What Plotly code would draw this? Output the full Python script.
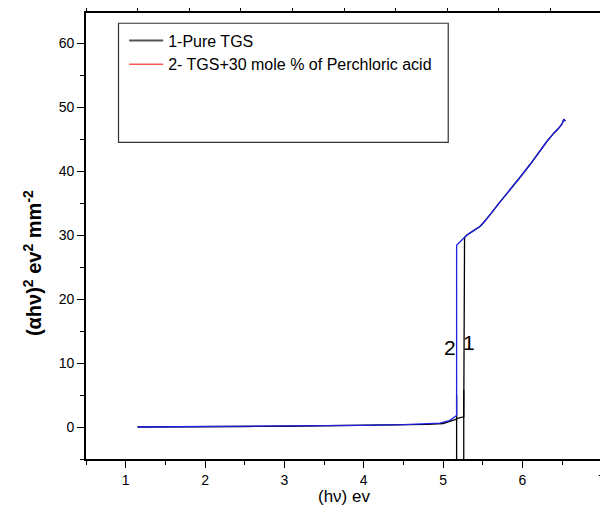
import plotly.graph_objects as go

# ---- data ----
x_pure = [1.15, 1.5, 2.0, 2.5, 3.0, 3.5, 4.0, 4.5, 4.8, 5.0, 5.1, 5.15, 5.19, 5.24,
          5.26, 5.27, 5.30, 5.36, 5.46, 5.50, 5.55, 5.60, 5.70, 5.80, 5.90, 6.00,
          6.10, 6.20, 6.30, 6.40, 6.45, 6.50, 6.52, 6.54]
y_pure = [0.0, 0.0, 0.05, 0.08, 0.12, 0.17, 0.22, 0.3, 0.4, 0.55, 0.9, 1.15, 1.4, 1.56,
          1.6, 29.6, 30.0, 30.5, 31.3, 31.8, 32.5, 33.3, 34.9, 36.4, 37.9, 39.5,
          41.1, 42.8, 44.5, 46.0, 46.6, 47.4, 48.1, 47.8]

x_acid = [1.15, 1.5, 2.0, 2.5, 3.0, 3.5, 4.0, 4.5, 4.71, 4.96, 5.08, 5.15, 5.17,
          5.17, 5.30, 5.36, 5.46, 5.50, 5.55, 5.60, 5.70, 5.80, 5.90, 6.00,
          6.10, 6.20, 6.30, 6.40, 6.45, 6.50, 6.52, 6.54]
y_acid = [0.0, 0.02, 0.06, 0.1, 0.15, 0.2, 0.27, 0.36, 0.45, 0.6, 1.0, 1.6, 1.8,
          28.4, 30.0, 30.5, 31.3, 31.8, 32.5, 33.3, 34.9, 36.4, 37.9, 39.5,
          41.1, 42.8, 44.5, 46.0, 46.6, 47.4, 48.1, 47.8]

# band-gap extrapolation lines (x intercepts)
gap_x = [5.17, 5.17, None, 5.26, 5.26]
gap_y = [-5.0, 5.0, None, -5.0, 5.8]

gap_labels = ["2", "1"]
gap_label_x = [5.09, 5.32]
gap_label_y = [12.4, 13.2]

legend_names = ["1-Pure TGS", "2- TGS+30 mole % of Perchloric acid"]
legend_colors = ["#555555", "#ff0000"]

x_ticks = [1, 2, 3, 4, 5, 6, 7]
x_tick_text = ["1", "2", "3", "4", "5", "6", "7"]
y_ticks = [0, 10, 20, 30, 40, 50, 60]

x_title = "(h\u03bd) ev"
y_title = "<b>(\u03b1h\u03bd)<sup>2</sup> ev<sup>2</sup> mm<sup>-2</sup></b>"

FONT = "Liberation Sans, Arial, sans-serif"

fig = go.Figure()

fig.add_trace(go.Scatter(x=x_pure, y=y_pure, mode="lines",
                         line=dict(color="#000000", width=1.3), showlegend=False))
fig.add_trace(go.Scatter(x=gap_x, y=gap_y, mode="lines",
                         line=dict(color="#000000", width=1.3), showlegend=False))
fig.add_trace(go.Scatter(x=x_acid, y=y_acid, mode="lines",
                         line=dict(color="#2020e6", width=1.3), showlegend=False))

# legend entries (as drawn in the original legend)
fig.add_trace(go.Scatter(x=[None], y=[None], mode="lines", name=legend_names[0],
                         line=dict(color=legend_colors[0], width=2)))
fig.add_trace(go.Scatter(x=[None], y=[None], mode="lines", name=legend_names[1],
                         line=dict(color=legend_colors[1], width=1)))

# dummy trace to activate the top/right frame axes
fig.add_trace(go.Scatter(x=[None], y=[None], xaxis="x2", yaxis="y2",
                         showlegend=False, hoverinfo="skip"))

for txt, lx, ly in zip(gap_labels, gap_label_x, gap_label_y):
    fig.add_annotation(x=lx, y=ly, text=txt, showarrow=False,
                       font=dict(family=FONT, size=21, color="#000"))

# last x tick label sits on the right edge of the frame; written as an
# annotation placed at the tick value so it is not dropped
fig.add_annotation(x=x_ticks[-1], xref="x", yref="paper", y=-0.047,
                   xanchor="center", yanchor="middle", showarrow=False,
                   text=x_tick_text[-1], font=dict(family=FONT, size=14, color="#000"))

# axis titles
fig.add_annotation(xref="paper", yref="paper", x=0.5, y=-0.085,
                   xanchor="center", yanchor="middle", showarrow=False,
                   text=x_title, font=dict(family=FONT, size=17, color="#000"))
fig.add_annotation(xref="paper", yref="paper", x=-0.104, y=0.44,
                   xanchor="center", yanchor="middle", showarrow=False,
                   textangle=-90,
                   text=y_title, font=dict(family=FONT, size=20, color="#000"))

# legend frame
fig.add_shape(type="rect", xref="paper", yref="paper",
              x0=0.063, x1=0.702, y0=0.710, y1=0.977,
              line=dict(color="#333333", width=1.2), fillcolor="rgba(0,0,0,0)")

axis_common = dict(showgrid=False, zeroline=False, showline=True, automargin=False,
                   linecolor="#000", linewidth=1.6, ticks="outside",
                   tickcolor="#000", tickwidth=1.4, ticklabeloverflow="allow",
                   tickfont=dict(family=FONT, size=14, color="#000"))

frame_common = dict(range=[0, 10], tickvals=list(range(11)), ticklen=3,
                    showticklabels=False, showgrid=False, zeroline=False,
                    showline=True, linecolor="#000", linewidth=1.6,
                    ticks="outside", tickcolor="#000", tickwidth=1.2,
                    automargin=False)

# the page body adds an 8 px margin; keep the page within the window
fig.update_layout(
    width=600, height=515,
    margin=dict(l=78, r=6, t=5, b=64, autoexpand=False),
    paper_bgcolor="white", plot_bgcolor="white",
    font=dict(family=FONT, color="#000"),
    xaxis=dict(range=[0.5, 7.002], tickvals=x_ticks,
               ticktext=x_tick_text[:-1] + [""], ticklen=7,
               minor=dict(dtick=0.5, tick0=0.5, ticklen=4, ticks="outside",
                          tickcolor="#000", tickwidth=1.4),
               **axis_common),
    yaxis=dict(range=[-5, 64.7], tickvals=y_ticks, ticklen=7,
               minor=dict(dtick=5, tick0=0, ticklen=4, ticks="outside",
                          tickcolor="#000", tickwidth=1.4),
               **axis_common),
    xaxis2=dict(overlaying="x", side="top", anchor="y", **frame_common),
    yaxis2=dict(overlaying="y", side="right", anchor="x", **frame_common),
    legend=dict(x=0.074, y=0.9765, xanchor="left", yanchor="top",
                bgcolor="rgba(0,0,0,0)", borderwidth=0, itemwidth=34,
                font=dict(family=FONT, size=16, color="#000"),
                tracegroupgap=0),
)

fig.write_html("out.html")
